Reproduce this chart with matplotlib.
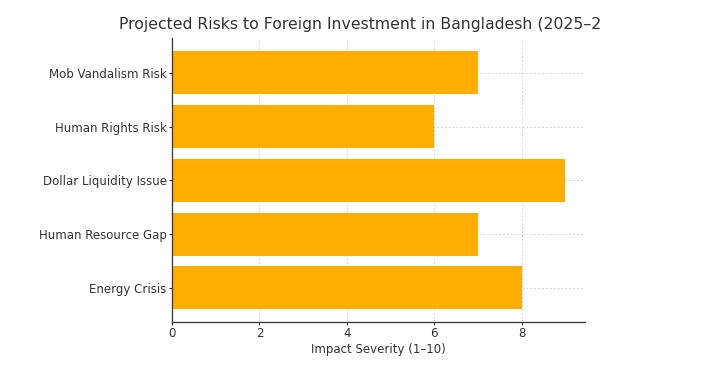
import matplotlib
matplotlib.use("Agg")
import matplotlib.pyplot as plt
from matplotlib.transforms import Bbox, TransformedBbox

plt.rcParams["font.family"] = ["DejaVu Sans"]

# datos (de abajo hacia arriba)
riesgos = ["Energy Crisis", "Human Resource Gap", "Dollar Liquidity Issue",
           "Human Rights Risk", "Mob Vandalism Risk"]
severidad = [8, 7, 9, 6, 7]
xticks = [0, 2, 4, 6, 8]

texto = "#333333"

fig = plt.figure(figsize=(7.27, 3.83), dpi=100)
ax = fig.add_axes([0.2366, 0.1585, 0.5681, 0.7415])

ax.barh(riesgos, severidad, height=0.8, color="#FFAE00", zorder=2)
ax.set_xticks(xticks)
ax.grid(True, linestyle=(0, (2, 2)), color="#d5d5d5", linewidth=0.7, zorder=0)
ax.set_axisbelow(True)

for lado in ["top", "right"]:
    ax.spines[lado].set_visible(False)
for lado in ["left", "bottom"]:
    ax.spines[lado].set_color("#333333")
    ax.spines[lado].set_linewidth(0.9)

ax.tick_params(axis="both", labelsize=8.5, colors="#333333", labelcolor=texto,
               length=2.5, pad=1.2)
ax.set_xlabel("Impact Severity (1–10)", fontsize=8.5, color=texto, labelpad=2)

titulo = ax.set_title("Projected Risks to Foreign Investment in Bangladesh (2025–2030)",
                      fontsize=11.3, color=texto, pad=7)
# la imagen original esta recortada a la derecha
titulo.set_clip_box(TransformedBbox(Bbox([[0, 0], [600 / 727, 1]]), fig.transFigure))
titulo.set_clip_on(True)

fig.savefig("out.png", dpi=100)
